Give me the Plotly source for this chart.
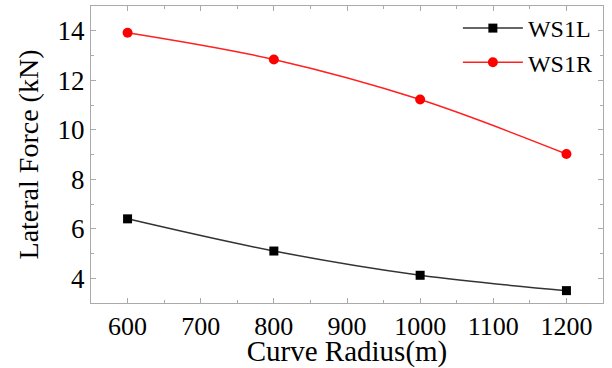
import plotly.graph_objects as go

radius = [600, 800, 1000, 1200]
ws1l = [6.40, 5.10, 4.12, 3.50]
ws1r = [13.92, 12.84, 11.22, 9.02]

x_ticks = [600, 700, 800, 900, 1000, 1100, 1200]
y_ticks = [4, 6, 8, 10, 12, 14]

font_family = "Liberation Serif"

fig = go.Figure()
fig.add_trace(go.Scatter(x=radius, y=ws1l, name="WS1L", mode="lines+markers",
                         line=dict(color="#333333", width=1.5, shape="spline"),
                         marker=dict(symbol="square", size=9, color="black")))
fig.add_trace(go.Scatter(x=radius, y=ws1r, name="WS1R", mode="lines+markers",
                         line=dict(color="#ff2020", width=1.5, shape="spline"),
                         marker=dict(symbol="circle", size=10, color="red")))

axis_common = dict(showgrid=False, zeroline=False, showline=True, linecolor="#aaaaaa",
                   linewidth=1, mirror="ticks", ticks="inside", ticklen=5,
                   tickcolor="#aaaaaa")

fig.update_xaxes(range=[550, 1250], tickmode="array", tickvals=x_ticks,
                 ticktext=[str(v) for v in x_ticks], tickangle=0,
                 tickfont=dict(family=font_family, size=26, color="black"),
                 minor=dict(dtick=50, ticks="inside", ticklen=3, tickcolor="#aaaaaa"),
                 title=dict(text="Curve Radius(m)", font=dict(family=font_family, size=29, color="black"),
                            standoff=4),
                 automargin=False,
                 **axis_common)
fig.update_yaxes(range=[3, 15], tickmode="array", tickvals=y_ticks,
                 ticktext=[str(v) for v in y_ticks],
                 tickfont=dict(family=font_family, size=27, color="black"),
                 minor=dict(dtick=1, ticks="inside", ticklen=3, tickcolor="#aaaaaa"),
                 title=dict(text="Lateral Force (kN)", font=dict(family=font_family, size=28, color="black"),
                            standoff=10),
                 automargin=False,
                 **axis_common)

fig.update_layout(width=612, height=368, margin=dict(l=91, r=9, t=6, b=65),
                  font=dict(family=font_family),
                  paper_bgcolor="white", plot_bgcolor="white",
                  legend=dict(x=0.99, y=1.0, xanchor="right", yanchor="top",
                              font=dict(family=font_family, size=24, color="black"),
                              bgcolor="rgba(0,0,0,0)", itemwidth=60, tracegroupgap=0))

fig.write_html("out.html")
